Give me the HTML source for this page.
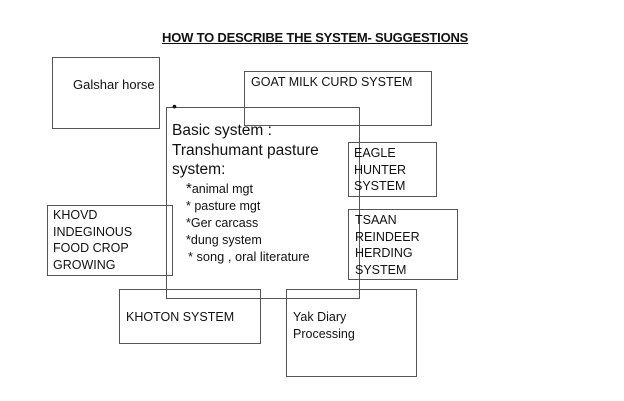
<!DOCTYPE html>
<html><head><meta charset="utf-8"><style>
body{margin:0;width:624px;height:401px;background:#fff;position:relative;overflow:hidden;font-family:"Liberation Sans",sans-serif;color:#111}
.b{position:absolute;border:1px solid #555;box-sizing:border-box}
.t{position:absolute;font-size:12.5px;line-height:16.5px;white-space:nowrap}
</style></head><body>
<div class="t" style="left:162px;top:30px;font-size:13px;font-weight:bold;text-decoration:underline;letter-spacing:-0.2px">HOW TO DESCRIBE THE SYSTEM- SUGGESTIONS</div>

<div class="b" style="left:52px;top:57px;width:108px;height:72px"></div>
<div class="t" style="left:73px;top:77px;font-size:13px">Galshar horse</div>

<div class="b" style="left:244px;top:71px;width:188px;height:55px"></div>
<div class="t" style="left:251px;top:74px;font-size:12.5px">GOAT MILK CURD SYSTEM</div>

<div class="b" style="left:166px;top:107px;width:194px;height:192px"></div>
<div class="t" style="left:172px;top:98px;font-size:14px">•</div>
<div class="t" style="left:172px;top:121px;font-size:15.5px;line-height:19.5px">Basic system :<br>Transhumant pasture<br>system:</div>
<div class="t" style="left:186px;top:180px;font-size:12.5px;line-height:17px"><span style="font-size:15px">*</span>animal mgt<br>* pasture mgt<br>*Ger carcass<br>*dung system</div>
<div class="t" style="left:188px;top:249px;font-size:12.8px">* song , oral literature</div>

<div class="b" style="left:348px;top:142px;width:89px;height:55px"></div>
<div class="t" style="left:354px;top:145px;line-height:16.5px">EAGLE<br>HUNTER<br>SYSTEM</div>

<div class="b" style="left:47px;top:205px;width:126px;height:71px"></div>
<div class="t" style="left:53px;top:207px;line-height:16.5px">KHOVD<br>INDEGINOUS<br>FOOD CROP<br>GROWING</div>

<div class="b" style="left:348px;top:209px;width:110px;height:71px"></div>
<div class="t" style="left:355px;top:212px;line-height:16.5px">TSAAN<br>REINDEER<br>HERDING<br>SYSTEM</div>

<div class="b" style="left:119px;top:289px;width:142px;height:55px"></div>
<div class="t" style="left:126px;top:309px">KHOTON SYSTEM</div>

<div class="b" style="left:286px;top:289px;width:131px;height:88px"></div>
<div class="t" style="left:293px;top:309px;line-height:16.5px">Yak Diary<br>Processing</div>
</body></html>
